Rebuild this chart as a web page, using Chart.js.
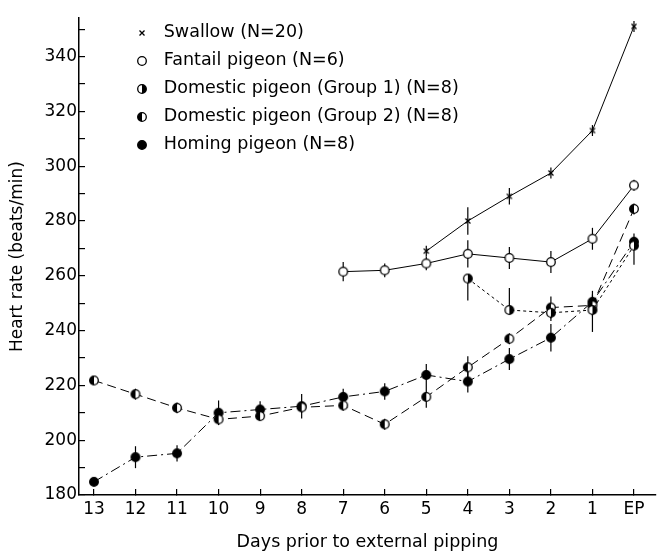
<!DOCTYPE html>
<html>
<head>
<meta charset="utf-8">
<script src="https://cdn.jsdelivr.net/npm/chart.js@4/dist/chart.umd.min.js"></script>
<style>
  html, body { margin: 0; padding: 0; background: #fff; }
  #wrap { width: 661px; height: 559px; }
</style>
</head>
<body>
<div id="wrap"><canvas id="myChart" width="661" height="559"></canvas></div>
<script>
// days prior to external pipping (left to right)
var dayLabels = ['13', '12', '11', '10', '9', '8', '7', '6', '5', '4', '3', '2', '1', 'EP'];
var yTicks = [180, 190, 200, 210, 220, 230, 240, 250, 260, 270, 280, 290, 300, 310, 320, 330, 340, 350];

// heart rate, beats/min (null = no measurement)
var swallow = [null, null, null, null, null, null, null, null, 269, 280, 289, 297.5, 313, 351];
var fantail = [null, null, null, null, null, null, 261.5, 262, 264.5, 268, 266.5, 265, 273.5, 293];
var domestic1 = [null, null, null, null, null, null, null, null, null, 259, 247.5, 246.5, 247.5, 271];
var domestic2 = [221.8, 216.8, 211.8, 207.6, 208.8, 212, 212.7, 205.8, 215.8, 226.6, 237, 248.4, 249.2, 284.4];
var homing = [184.8, 193.8, 195.2, 210, 211.2, 212.4, 215.8, 217.8, 223.8, 221.4, 229.6, 237.4, 250.5, 272.4];

// error bars (up / down from mean)
var swallowErr = [0, 0, 0, 0, 0, 0, 0, 0, 2, 5, 3, 2, 2, 2];
var fantailErr = [0, 0, 0, 0, 0, 0, 3.5, 2.5, 2.5, 5, 4, 4, 4, 2];
var domestic1ErrUp = [0, 0, 0, 0, 0, 0, 0, 0, 0, 0, 8, 3, 0, 0];
var domestic1ErrDown = [0, 0, 0, 0, 0, 0, 0, 0, 0, 8, 0, 3, 8, 7];
var domestic2Err = [1, 2, 2, 2, 1.5, 2, 2, 2, 4, 4, 2, 4, 4, 2];
var homingErr = [1, 4, 3, 4.5, 3, 4.5, 3, 3, 4, 4, 4, 5, 4, 3];

var seriesNames = [
    'Swallow (N=20)',
    'Fantail pigeon (N=6)',
    'Domestic pigeon (Group 1) (N=8)',
    'Domestic pigeon (Group 2) (N=8)',
    'Homing pigeon (N=8)'
];

function toPoints(arr) {
    var pts = [];
    for (var i = 0; i < arr.length; i++) {
        if (arr[i] !== null) pts.push({ x: i, y: arr[i] });
    }
    return pts;
}

function toErr(up, down, arr) {
    var out = [];
    for (var i = 0; i < arr.length; i++) {
        if (arr[i] !== null) out.push([up[i], down[i]]);
    }
    return out;
}

// little canvases used as point markers
function circleMarker(fill) {
    var c = document.createElement('canvas');
    c.width = 12; c.height = 12;
    var g = c.getContext('2d');
    g.lineWidth = 1.3;
    g.strokeStyle = '#000';
    g.fillStyle = '#fff';
    g.beginPath(); g.arc(6, 6, 4.3, 0, 2 * Math.PI); g.fill();
    g.fillStyle = '#000';
    if (fill === 'full') {
        g.beginPath(); g.arc(6, 6, 4.3, 0, 2 * Math.PI); g.fill();
    } else if (fill === 'left') {
        g.beginPath(); g.arc(6, 6, 4.3, Math.PI / 2, 3 * Math.PI / 2); g.closePath(); g.fill();
    } else if (fill === 'right') {
        g.beginPath(); g.arc(6, 6, 4.3, -Math.PI / 2, Math.PI / 2); g.closePath(); g.fill();
    }
    g.beginPath(); g.arc(6, 6, 4.3, 0, 2 * Math.PI); g.stroke();
    return c;
}

function crossMarker() {
    var c = document.createElement('canvas');
    c.width = 8; c.height = 8;
    var g = c.getContext('2d');
    g.lineWidth = 1.3;
    g.strokeStyle = '#000';
    g.beginPath();
    g.moveTo(1.5, 1.5); g.lineTo(6.5, 6.5);
    g.moveTo(6.5, 1.5); g.lineTo(1.5, 6.5);
    g.stroke();
    return c;
}

var errorBars = {
    id: 'errorBars',
    beforeDatasetsDraw: function(chart) {
        var ctx = chart.ctx;
        var yScale = chart.scales.y;
        ctx.save();
        ctx.strokeStyle = '#000';
        ctx.lineWidth = 1.2;
        chart.data.datasets.forEach(function(ds, di) {
            var meta = chart.getDatasetMeta(di);
            meta.data.forEach(function(pt, i) {
                var e = ds.err[i];
                var v = ds.data[i].y;
                ctx.beginPath();
                ctx.moveTo(pt.x, yScale.getPixelForValue(v + e[0]));
                ctx.lineTo(pt.x, yScale.getPixelForValue(v - e[1]));
                ctx.stroke();
            });
        });
        ctx.restore();
    }
};

// move legend inside plot, to the right of the y axis
var legendShift = {
    id: 'legendShift',
    afterLayout: function(chart) {
        chart.legend.left = chart.chartArea.left + 39.5;
        chart.legend.top = chart.chartArea.top - 4.5;
    }
};

var font = 'DejaVu Sans';
var ctx = document.getElementById('myChart');

var datasets = [
    { label: seriesNames[0], data: toPoints(swallow), err: toErr(swallowErr, swallowErr, swallow),
      pointStyle: crossMarker(), borderDash: [] },
    { label: seriesNames[1], data: toPoints(fantail), err: toErr(fantailErr, fantailErr, fantail),
      pointStyle: circleMarker('none'), borderDash: [] },
    { label: seriesNames[2], data: toPoints(domestic1), err: toErr(domestic1ErrUp, domestic1ErrDown, domestic1),
      pointStyle: circleMarker('right'), borderDash: [3, 3] },
    { label: seriesNames[3], data: toPoints(domestic2), err: toErr(domestic2Err, domestic2Err, domestic2),
      pointStyle: circleMarker('left'), borderDash: [9, 5] },
    { label: seriesNames[4], data: toPoints(homing), err: toErr(homingErr, homingErr, homing),
      pointStyle: circleMarker('full'), borderDash: [10, 4, 2, 4] }
];
datasets.forEach(function(d) {
    d.borderColor = '#000';
    d.backgroundColor = '#000';
    d.borderWidth = 1;
    d.tension = 0;
    d.fill = false;
});

var myChart = new Chart(ctx, {
    type: 'line',
    data: { datasets: datasets },
    plugins: [errorBars, legendShift],
    options: {
        responsive: false,
        animation: false,
        layout: { padding: { top: 10, right: 1, left: 0, bottom: 0 } },
        plugins: {
            tooltip: { enabled: false },
            legend: {
                position: 'chartArea',
                align: 'start',
                labels: {
                    usePointStyle: true,
                    pointStyleWidth: 26,
                    padding: 10.5,
                    color: '#000',
                    font: { family: font, size: 17.5 }
                }
            }
        },
        scales: {
            x: {
                type: 'linear',
                min: -0.36,
                max: 13.53,
                afterBuildTicks: function(axis) {
                    axis.ticks = dayLabels.map(function(l, i) { return { value: i }; });
                },
                afterFit: function(s) { s.height = 64; },
                ticks: {
                    padding: 10,
                    autoSkip: false,
                    maxRotation: 0,
                    color: '#000',
                    font: { family: font, size: 17 },
                    callback: function(v) { return dayLabels[v]; }
                },
                grid: { drawOnChartArea: false, tickLength: -6, color: '#000', lineWidth: 1.2 },
                border: { display: true, color: '#000', width: 1.5 },
                title: {
                    display: true,
                    text: 'Days prior to external pipping',
                    color: '#000',
                    font: { family: font, size: 17.5 },
                    padding: { top: 0, bottom: 6 }
                }
            },
            y: {
                min: 180,
                max: 354,
                afterBuildTicks: function(axis) {
                    axis.ticks = yTicks.map(function(v) { return { value: v }; });
                },
                afterFit: function(s) { s.width = 79; },
                ticks: {
                    padding: 8,
                    autoSkip: false,
                    color: '#000',
                    font: { family: font, size: 17 },
                    callback: function(v) { return v % 20 === 0 ? v : ''; }
                },
                grid: { drawOnChartArea: false, tickLength: -6, color: '#000', lineWidth: 1.2 },
                border: { display: true, color: '#000', width: 1.5 },
                title: {
                    display: true,
                    text: 'Heart rate (beats/min)',
                    color: '#000',
                    font: { family: font, size: 17 },
                    padding: { top: 7, bottom: 0 }
                }
            }
        }
    }
});
</script>
</body>
</html>
